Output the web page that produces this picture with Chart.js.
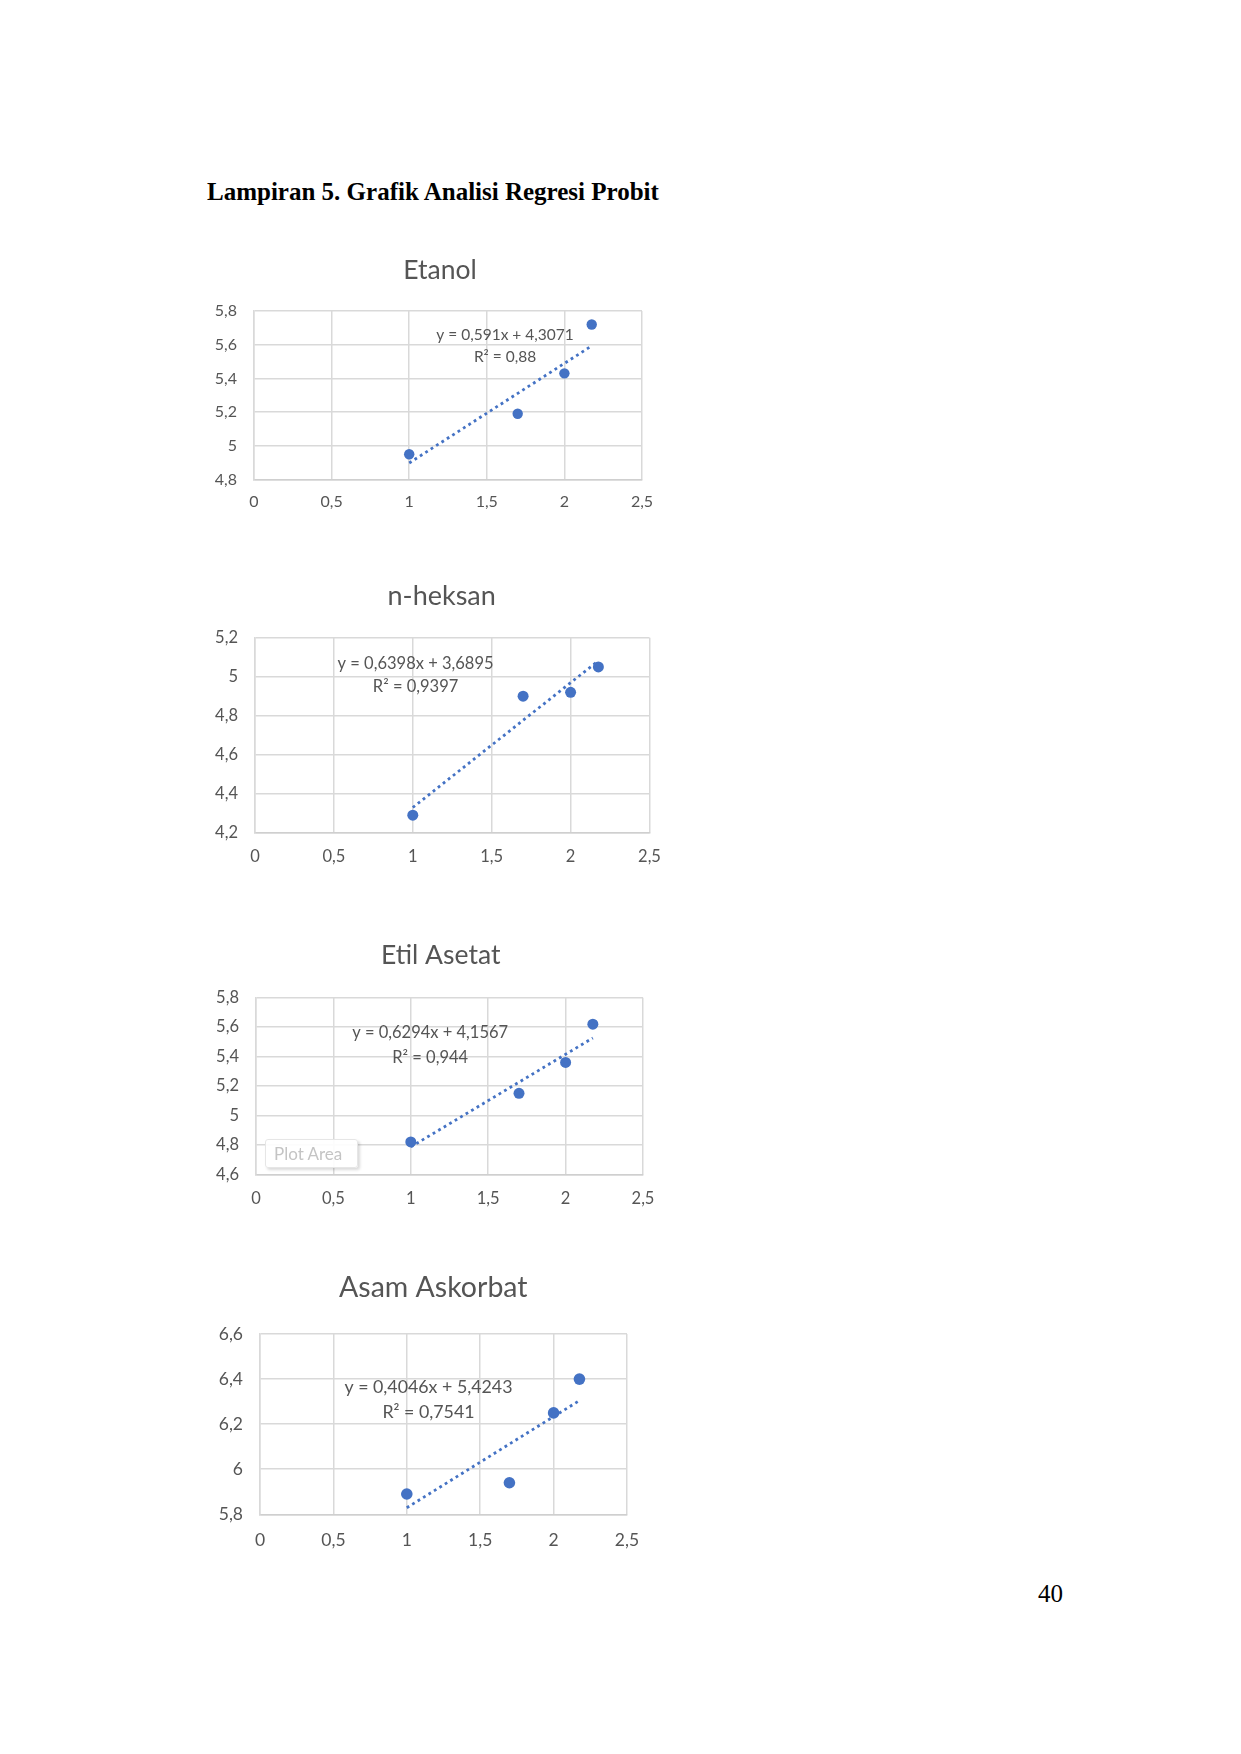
<!DOCTYPE html>
<html lang="id">
<head>
<meta charset="utf-8"/>
<title>Lampiran 5. Grafik Analisi Regresi Probit</title>
<script src="https://cdn.jsdelivr.net/npm/chart.js@4"></script>
<style>
  body {
    margin: 0;
    background: #fff;
    width: 1241px;
    height: 1754px;
    position: relative;
    overflow: hidden;
  }
  .heading {
    position: absolute;
    left: 207px;
    top: 179px;
    font: bold 25px 'Liberation Serif', 'Times New Roman', serif;
    line-height: 25px;
    color: #000;
    white-space: nowrap;
  }
  .page-no {
    position: absolute;
    left: 1038px;
    top: 1581px;
    font: 25px 'Liberation Serif', 'Times New Roman', serif;
    line-height: 25px;
    color: #000;
  }
  canvas { position: absolute; }
  .tip {
    position: absolute;
    left: 265px;
    top: 1139px;
    width: 93px;
    height: 29px;
    box-sizing: border-box;
    background: rgba(255,255,255,0.9);
    border: 1px solid #e6e6e6;
    border-radius: 3px;
    box-shadow: 2px 2px 3px rgba(0,0,0,0.15);
    font: 17px Lato, sans-serif;
    color: #c4c4c4;
    line-height: 27px;
    padding-left: 8px;
  }
</style>
</head>
<body>
<div class="heading">Lampiran 5. Grafik Analisi Regresi Probit</div>
<canvas id="c0"></canvas>
<canvas id="c1"></canvas>
<canvas id="c2"></canvas>
<canvas id="c3"></canvas>
<div class="tip">Plot Area</div>
<div class="page-no">40</div>
<script>
// data
const titles = ['Etanol', 'n-heksan', 'Etil Asetat', 'Asam Askorbat'];
const logKonsentrasi = [1, 1.699, 2, 2.176];
const probitEtanol = [4.95, 5.19, 5.43, 5.72];
const probitHeksan = [4.29, 4.90, 4.92, 5.05];
const probitEtilAsetat = [4.82, 5.15, 5.36, 5.62];
const probitAsamAskorbat = [5.89, 5.94, 6.25, 6.40];
const slopes = [0.591, 0.6398, 0.6294, 0.4046];
const intercepts = [4.3071, 3.6895, 4.1567, 5.4243];
const equations = ['y = 0,591x + 4,3071', 'y = 0,6398x + 3,6895', 'y = 0,6294x + 4,1567', 'y = 0,4046x + 5,4243'];
const r2Labels = ['R² = 0,88', 'R² = 0,9397', 'R² = 0,944', 'R² = 0,7541'];
const yMin = [4.8, 4.2, 4.6, 5.8];
const yMax = [5.8, 5.2, 5.8, 6.6];
const xMin = 0, xMax = 2.5, xStep = 0.5, yStep = 0.2;

const probits = [probitEtanol, probitHeksan, probitEtilAsetat, probitAsamAskorbat];

// where each plot area sits on the page (px), and text sizes
const frames = [
  {L: 254, T: 311,   R: 642,   B: 479.5,  tx: 440,   ty: 270,  gap: 22,   ex: 0.647, ey: 0.141, lh: 22,   ts: 26.5, fs: 16,   es: 15.5, r: 5.2},
  {L: 255, T: 637.7, R: 649.5, B: 832.7,  tx: 441.7, ty: 596,  gap: 24,   ex: 0.407, ey: 0.131, lh: 23.4, ts: 27,   fs: 16.5, es: 16.5, r: 5.5},
  {L: 256, T: 997.7, R: 643,   B: 1174.3, tx: 440.7, ty: 955,  gap: 24,   ex: 0.45,  ey: 0.196, lh: 25,   ts: 26.5, fs: 16.5, es: 16.5, r: 5.5},
  {L: 260, T: 1334,  R: 627,   B: 1514.3, tx: 433.3, ty: 1288, gap: 25.7, ex: 0.459, ey: 0.296, lh: 25.4, ts: 28.5, fs: 17.5, es: 17.8, r: 5.8}
];

const TEXT = '#555555';
const GRID = '#d9d9d9';
const BLUE = '#4472C4';
const FONT = 'Lato, "Open Sans", sans-serif';

function fmt(v) {
  return String(Math.round(v * 10) / 10).replace('.', ',');
}

// chart title + trendline equation
const texts = {
  id: 'texts',
  afterDatasetsDraw(chart, args, o) {
    const a = chart.chartArea, ctx = chart.ctx;
    ctx.save();
    ctx.fillStyle = TEXT;
    ctx.textAlign = 'center';
    ctx.textBaseline = 'middle';
    ctx.font = o.ts + 'px ' + FONT;
    ctx.fillText(o.title, o.tx, o.ty);
    const x = a.left + o.fx * (a.right - a.left);
    const y = a.top + o.fy * (a.bottom - a.top);
    ctx.font = o.es + 'px ' + FONT;
    o.lines.forEach((t, i) => ctx.fillText(t, x, y + i * o.lh));
    ctx.restore();
  }
};

frames.forEach((f, i) => {
  const yW = 60, padL = 4, padR = 40;
  const left = Math.round(f.L - yW - padL);
  const top = Math.round(f.ty - 24);
  const w = Math.round(f.R + padR - left);
  const lineH = f.fs * 1.2;
  const xPad = f.gap - lineH / 2;
  const xH = xPad + lineH + 6;
  const h = Math.round(f.B - top + xH);

  const cv = document.getElementById('c' + i);
  cv.width = w;
  cv.height = h;
  cv.style.left = left + 'px';
  cv.style.top = top + 'px';

  const xs = logKonsentrasi;
  const lo = Math.min(...xs), hi = Math.max(...xs);
  const tickFont = {family: FONT, size: f.fs};

  new Chart(cv, {
    type: 'scatter',
    data: {
      datasets: [{
        data: xs.map((x, k) => ({x: x, y: probits[i][k]})),
        backgroundColor: BLUE,
        borderWidth: 0,
        pointRadius: f.r
      }, {
        data: [lo, hi].map(x => ({x: x, y: slopes[i] * x + intercepts[i]})),
        showLine: true,
        borderColor: BLUE,
        borderWidth: 2.8,
        borderDash: [2.8, 3.6],
        pointRadius: 0
      }]
    },
    options: {
      responsive: false,
      animation: false,
      layout: {padding: {left: f.L - yW - left, right: w - (f.R - left), top: f.T - top, bottom: h - (f.B - top) - xH}},
      plugins: {
        legend: {display: false},
        tooltip: {enabled: false},
        texts: {
          title: titles[i], tx: f.tx - left, ty: f.ty - top, ts: f.ts,
          lines: [equations[i], r2Labels[i]], fx: f.ex, fy: f.ey, lh: f.lh, es: f.es
        }
      },
      scales: {
        x: {
          type: 'linear',
          min: xMin, max: xMax,
          afterFit: s => { s.height = xH; },
          ticks: {stepSize: xStep, color: TEXT, font: tickFont, padding: xPad, callback: fmt},
          grid: {color: GRID, lineWidth: 1.5, drawTicks: false},
          border: {color: '#cfcfcf', width: 1.5}
        },
        y: {
          min: yMin[i], max: yMax[i],
          afterFit: s => { s.width = yW; },
          ticks: {stepSize: yStep, color: TEXT, font: tickFont, padding: 17, callback: fmt},
          grid: {color: GRID, lineWidth: 1.5, drawTicks: false},
          border: {color: GRID, width: 1.5}
        }
      }
    },
    plugins: [texts]
  });
});
</script>
</body>
</html>
